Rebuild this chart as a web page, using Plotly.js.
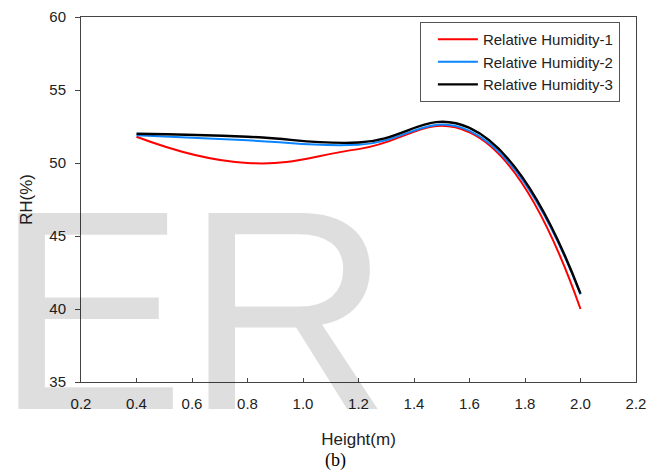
<!DOCTYPE html>
<html>
<head>
<meta charset="utf-8">
<script src="https://cdn.plot.ly/plotly-3.0.1.min.js"></script>
<style>
  html, body { margin: 0; padding: 0; background: #fff; }
  #chart { width: 647px; height: 472px; }
</style>
</head>
<body>
<div id="chart"></div>
<script>
// Measurement heights (m)
const heights = [0.4, 0.8, 1.2, 1.6, 2.0];

// Relative humidity (%) at each height, three runs
const rh1 = [51.8, 50.0, 50.95, 52.1, 40.0];
const rh2 = [51.9, 51.55, 51.25, 52.2, 41.0];
const rh3 = [52.0, 51.8, 51.4, 52.4, 41.05];

const seriesNames = ['Relative Humidity-1', 'Relative Humidity-2', 'Relative Humidity-3'];

const xTicks = [0.2, 0.4, 0.6, 0.8, 1.0, 1.2, 1.4, 1.6, 1.8, 2.0, 2.2];
const yTicks = [35, 40, 45, 50, 55, 60];

const font = 'Liberation Sans, Arial, sans-serif';

function curve(y, name, color, width) {
  return {
    x: heights, y: y, name: name, type: 'scatter', mode: 'lines',
    line: { color: color, width: width, shape: 'spline', smoothing: 1.3 },
    hoverinfo: 'skip'
  };
}

const traces = [
  curve(rh1, seriesNames[0], '#ff0000', 2),
  curve(rh2, seriesNames[1], '#0a84ff', 2),
  curve(rh3, seriesNames[2], '#000000', 2.4)
];

const layout = {
  width: 647, height: 472,
  margin: { l: 81, r: 11, t: 17, b: 90, autoexpand: false },
  paper_bgcolor: '#ffffff', plot_bgcolor: 'rgba(0,0,0,0)',
  font: { family: font, size: 15, color: '#222' },
  showlegend: true,
  legend: {
    x: 0.971, y: 0.986,
    xanchor: 'right', yanchor: 'top',
    itemwidth: 40, indentation: 12,
    bordercolor: '#555', borderwidth: 1, bgcolor: 'rgba(255,255,255,0)',
    font: { family: font, size: 15, color: '#222' }
  },
  xaxis: {
    range: [0.2, 2.2], tickvals: xTicks,
    ticktext: xTicks.map(v => v.toFixed(1)),
    ticks: 'inside', ticklen: 4, tickwidth: 1, tickcolor: '#444',
    showline: true, linecolor: '#444', linewidth: 1, mirror: true,
    showgrid: false, zeroline: false,
    ticklabelstandoff: 8,
    tickfont: { family: font, size: 15, color: '#222' },
    title: { text: 'Height(m)', font: { family: font, size: 17, color: '#222' }, standoff: 22 }
  },
  yaxis: {
    range: [35, 60], tickvals: yTicks,
    ticks: 'outside', ticklen: 5, tickwidth: 1, tickcolor: '#444',
    showline: true, linecolor: '#444', linewidth: 1, mirror: true,
    showgrid: false, zeroline: false,
    ticklabelstandoff: 6,
    tickfont: { family: font, size: 15, color: '#222' },
    title: { text: 'RH(%)', font: { family: font, size: 17, color: '#222' }, standoff: 12 }
  },
  annotations: [
    {
      // light watermark lettering behind the axes
      text: 'ER', xref: 'paper', yref: 'paper', x: -0.159, y: -0.244,
      xanchor: 'left', yanchor: 'bottom', showarrow: false,
      font: { family: font, size: 285, color: 'rgba(0,0,0,0.13)' }
    },
    {
      text: '(b)', xref: 'paper', yref: 'paper', x: 0.458, y: -0.216,
      xanchor: 'center', yanchor: 'middle', showarrow: false,
      font: { family: 'Liberation Serif, Times New Roman, serif', size: 18, color: '#000' }
    }
  ]
};

Plotly.newPlot('chart', traces, layout, { displayModeBar: false, staticPlot: true });
</script>
</body>
</html>
